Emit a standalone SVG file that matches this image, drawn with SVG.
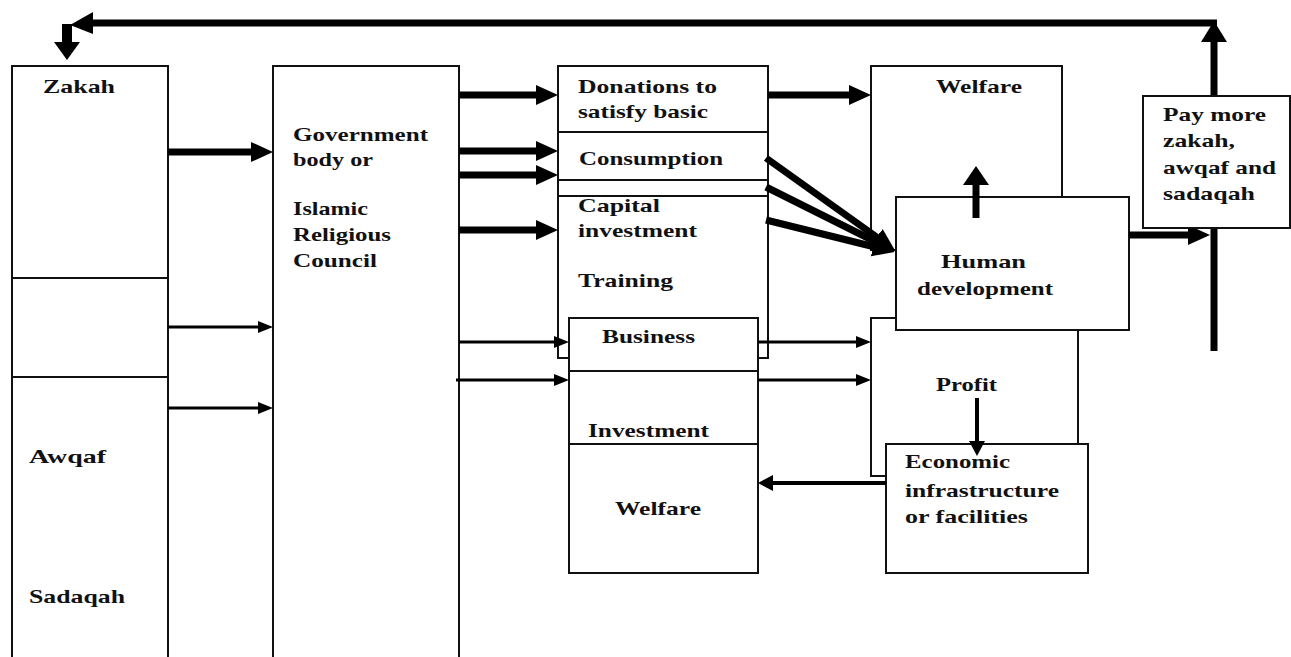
<svg xmlns="http://www.w3.org/2000/svg" width="1291" height="657" viewBox="0 0 1291 657">
<style>
.box{fill:#fff;stroke:#111;stroke-width:2}
.div{stroke:#111;stroke-width:2;fill:none}
.t{font-family:"Liberation Serif","Times New Roman",serif;font-weight:bold;font-size:19px;fill:#111}
.thick{stroke:#000;stroke-width:7;fill:none}
.thin{stroke:#000;stroke-width:3;fill:none}
.mid{stroke:#000;stroke-width:4;fill:none}
.head{fill:#000}
</style>
<defs>
<marker id="ah" markerUnits="userSpaceOnUse" markerWidth="24" markerHeight="22" refX="10" refY="10" orient="auto"><path d="M0,0 L22,10 L0,20 z" fill="#000"/></marker>
<marker id="as" markerUnits="userSpaceOnUse" markerWidth="16" markerHeight="14" refX="7" refY="6" orient="auto"><path d="M0,0 L15,6 L0,12 z" fill="#000"/></marker>
</defs>
<rect width="1291" height="657" fill="#fff"/>

<g id="sources">
<rect class="box" x="12" y="66" width="156" height="610"/>
<line class="div" x1="12" y1="278" x2="168" y2="278"/>
<line class="div" x1="12" y1="377" x2="168" y2="377"/>
<text class="t" x="43" y="93" textLength="72" lengthAdjust="spacingAndGlyphs">Zakah</text>
<text class="t" x="29" y="463" textLength="77" lengthAdjust="spacingAndGlyphs">Awqaf</text>
<text class="t" x="29" y="603" textLength="96" lengthAdjust="spacingAndGlyphs">Sadaqah</text>
</g>

<g id="government">
<rect class="box" x="273" y="66" width="186" height="610"/>
<text class="t" x="293" y="141" textLength="135" lengthAdjust="spacingAndGlyphs">Government</text>
<text class="t" x="293" y="166" textLength="80" lengthAdjust="spacingAndGlyphs">body or</text>
<text class="t" x="293" y="215" textLength="75" lengthAdjust="spacingAndGlyphs">Islamic</text>
<text class="t" x="293" y="241" textLength="98" lengthAdjust="spacingAndGlyphs">Religious</text>
<text class="t" x="293" y="267" textLength="84" lengthAdjust="spacingAndGlyphs">Council</text>
</g>

<g id="distribution">
<rect class="box" x="558" y="66" width="210" height="292"/>
<line class="div" x1="558" y1="132" x2="768" y2="132"/>
<line class="div" x1="558" y1="180" x2="768" y2="180"/>
<line class="div" x1="558" y1="196" x2="768" y2="196"/>
<text class="t" x="578" y="93" textLength="139" lengthAdjust="spacingAndGlyphs">Donations to</text>
<text class="t" x="578" y="118" textLength="130" lengthAdjust="spacingAndGlyphs">satisfy basic</text>
<text class="t" x="579" y="165" textLength="144" lengthAdjust="spacingAndGlyphs">Consumption</text>
<text class="t" x="578" y="212" textLength="82" lengthAdjust="spacingAndGlyphs">Capital</text>
<text class="t" x="578" y="237" textLength="119" lengthAdjust="spacingAndGlyphs">investment</text>
<text class="t" x="578" y="287" textLength="95" lengthAdjust="spacingAndGlyphs">Training</text>
</g>

<g id="business">
<rect class="box" x="569" y="318" width="189" height="255"/>
<line class="div" x1="569" y1="371" x2="758" y2="371"/>
<line class="div" x1="569" y1="444" x2="758" y2="444"/>
<text class="t" x="602" y="343" textLength="93" lengthAdjust="spacingAndGlyphs">Business</text>
<text class="t" x="588" y="437" textLength="121" lengthAdjust="spacingAndGlyphs">Investment</text>
<text class="t" x="615" y="515" textLength="86" lengthAdjust="spacingAndGlyphs">Welfare</text>
</g>

<g id="welfare">
<rect class="box" x="871" y="66" width="191" height="184"/>
<text class="t" x="936" y="93" textLength="86" lengthAdjust="spacingAndGlyphs">Welfare</text>
</g>

<g id="profit">
<rect class="box" x="871" y="318" width="207" height="158"/>
<text class="t" x="936" y="391" textLength="61" lengthAdjust="spacingAndGlyphs">Profit</text>
</g>

<g id="human-development">
<rect class="box" x="896" y="197" width="233" height="133"/>
<text class="t" x="941" y="268" textLength="85" lengthAdjust="spacingAndGlyphs">Human</text>
<text class="t" x="917" y="295" textLength="136" lengthAdjust="spacingAndGlyphs">development</text>
</g>

<g id="economic">
<rect class="box" x="886" y="444" width="202" height="129"/>
<text class="t" x="905" y="468" textLength="105" lengthAdjust="spacingAndGlyphs">Economic</text>
<text class="t" x="905" y="497" textLength="154" lengthAdjust="spacingAndGlyphs">infrastructure</text>
<text class="t" x="905" y="523" textLength="123" lengthAdjust="spacingAndGlyphs">or facilities</text>
</g>

<g id="connectors">
<line class="thick" x1="168" y1="152" x2="261" y2="152" marker-end="url(#ah)"/>
<line class="thin" x1="168" y1="327" x2="265" y2="327" marker-end="url(#as)"/>
<line class="thin" x1="168" y1="408" x2="265" y2="408" marker-end="url(#as)"/>
<line class="thick" x1="459" y1="95" x2="546" y2="95" marker-end="url(#ah)"/>
<line class="thick" x1="459" y1="151" x2="546" y2="151" marker-end="url(#ah)"/>
<line class="thick" x1="459" y1="175" x2="546" y2="175" marker-end="url(#ah)"/>
<line class="thick" x1="459" y1="230" x2="546" y2="230" marker-end="url(#ah)"/>
<line class="thin" x1="459" y1="342" x2="561" y2="342" marker-end="url(#as)"/>
<line class="thin" x1="456" y1="380" x2="561" y2="380" marker-end="url(#as)"/>
<line class="thick" x1="768" y1="95" x2="859" y2="95" marker-end="url(#ah)"/>
<line class="thick" x1="766" y1="158" x2="885" y2="243" marker-end="url(#ah)"/>
<line class="thick" x1="766" y1="187" x2="884" y2="246" marker-end="url(#ah)"/>
<line class="thick" x1="766" y1="220" x2="883" y2="249" marker-end="url(#ah)"/>
<line class="thin" x1="758" y1="342" x2="863" y2="342" marker-end="url(#as)"/>
<line class="thin" x1="758" y1="380" x2="863" y2="380" marker-end="url(#as)"/>
<line class="thick" x1="976" y1="218" x2="976" y2="183"/>
<polygon class="head" points="963,185 989,185 976,166"/>
<line class="mid" x1="977" y1="398" x2="977" y2="443"/>
<polygon class="head" points="969,441 985,441 977,456"/>
<line class="mid" x1="886" y1="483" x2="771" y2="483"/>
<polygon class="head" points="773,475 773,491 758,483"/>
<line class="thick" x1="1129" y1="235" x2="1198" y2="235" marker-end="url(#ah)"/>
<line class="thick" x1="1214" y1="351" x2="1214" y2="228"/>
<line class="thick" x1="1214" y1="96" x2="1214" y2="40"/>
<polygon class="head" points="1201,42 1227,42 1214,21"/>
<line class="thick" x1="1217" y1="23" x2="92" y2="23"/>
<polygon class="head" points="93,12 93,34 70,25"/>
<line stroke="#000" stroke-width="10" x1="67" y1="24" x2="67" y2="44"/>
<polygon class="head" points="54,42 80,42 67,60"/>
</g>

<g id="pay-more">
<rect class="box" x="1143" y="96" width="147" height="132"/>
<text class="t" x="1163" y="121" textLength="103" lengthAdjust="spacingAndGlyphs">Pay more</text>
<text class="t" x="1163" y="147" textLength="72" lengthAdjust="spacingAndGlyphs">zakah,</text>
<text class="t" x="1163" y="174" textLength="113" lengthAdjust="spacingAndGlyphs">awqaf and</text>
<text class="t" x="1163" y="200" textLength="92" lengthAdjust="spacingAndGlyphs">sadaqah</text>
</g>
</svg>
